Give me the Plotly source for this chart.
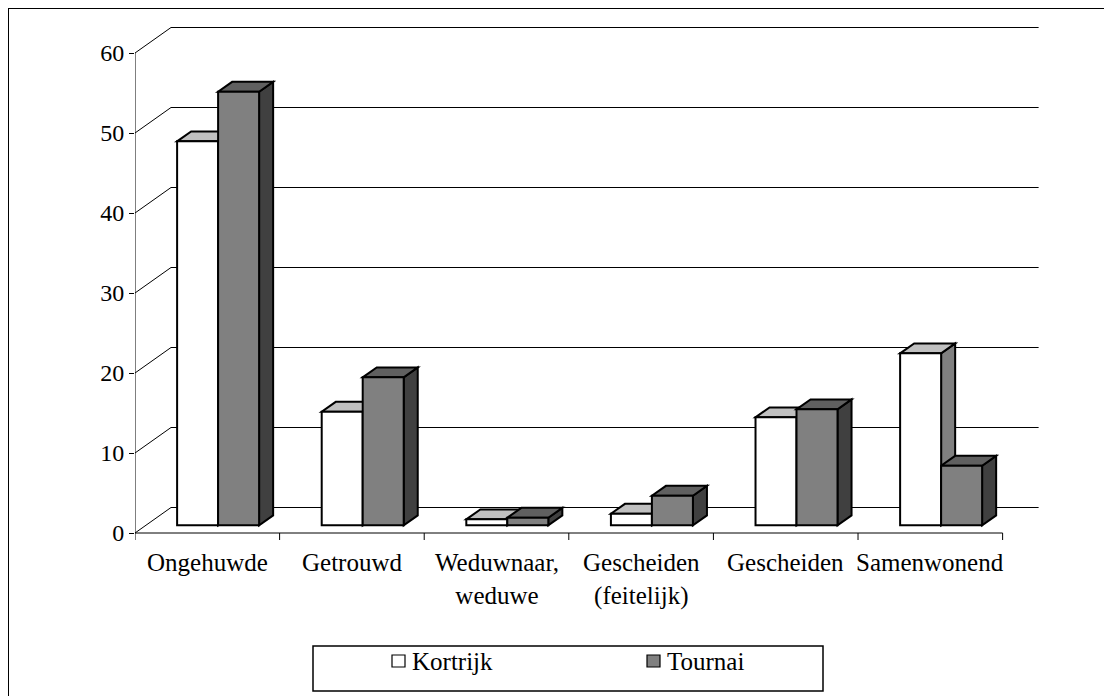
import plotly.graph_objects as go

# ---------------- data ----------------
categories = ["Ongehuwde", "Getrouwd", "Weduwnaar,<br>weduwe",
              "Gescheiden<br>(feitelijk)", "Gescheiden", "Samenwonend"]
series_names = ["Kortrijk", "Tournai"]
kortrijk = [48.0, 14.2, 0.75, 1.45, 13.5, 21.5]
tournai = [54.2, 18.5, 0.95, 3.7, 14.5, 7.45]
y_ticks = [0, 10, 20, 30, 40, 50, 60]

# ---------------- layout constants ----------------
OFF = 8                     # page body margin offset
W, H = 1112 - OFF, 696 - OFF
ML, MR, MT, MB = 135 - OFF, 66, 21 - OFF, 153
XR = [0, 6.3]
YR = [-1.25, 64]
plot_w = W - ML - MR
plot_h = H - MT - MB
px_x = plot_w / (XR[1] - XR[0])
px_y = plot_h / (YR[1] - YR[0])

DX = 36 / px_x          # depth offset (x) of back wall in data units
DY = 25.5 / px_y        # depth offset (y) of back wall in data units
F0, F1 = 0.30, 0.69     # bar depth (fraction of wall depth)
GAP = 0.2165            # left gap inside a category slot
BW = 0.2835             # bar width
FONT = "Liberation Serif"

front_cols = ["#ffffff", "#808080"]
top_cols = ["#c0c0c0", "#606060"]
side_cols = ["#808080", "#404040"]
series_vals = [kortrijk, tournai]
ncat = len(categories)


def px2paper(px, py):
    # px, py: pixel positions in the screenshot
    return (px - OFF - ML) / plot_w, (H - MB - (py - OFF)) / plot_h


shapes = []
# left wall diagonals + back wall gridlines
for v in y_ticks:
    shapes.append(dict(type="line", xref="x", yref="y", x0=0, y0=v, x1=DX, y1=v + DY,
                       line=dict(color="black", width=1), layer="below"))
    shapes.append(dict(type="line", xref="x", yref="y", x0=DX, y0=v + DY, x1=ncat + DX, y1=v + DY,
                       line=dict(color="black", width=1), layer="below"))
# front axes
shapes.append(dict(type="line", xref="x", yref="y", x0=0, y0=0, x1=0, y1=y_ticks[-1],
                   line=dict(color="black", width=1), layer="below"))
shapes.append(dict(type="line", xref="x", yref="y", x0=0, y0=0, x1=ncat, y1=0,
                   line=dict(color="black", width=1), layer="below"))
for i in range(ncat + 1):
    shapes.append(dict(type="line", xref="x", yref="y", x0=i, y0=0, x1=i, y1=-7 / px_y,
                       line=dict(color="black", width=1), layer="below"))

# 3D faces (tops and sides) of bars
ddx = (F1 - F0) * DX
ddy = (F1 - F0) * DY
base = F0 * DY
for i in range(ncat):
    for s, vals in enumerate(series_vals):
        xl = i + GAP + BW * s + F0 * DX
        xr = xl + BW
        t = base + vals[i]
        top = f"M{xl},{t} L{xr},{t} L{xr + ddx},{t + ddy} L{xl + ddx},{t + ddy} Z"
        side = f"M{xr},{base} L{xr},{t} L{xr + ddx},{t + ddy} L{xr + ddx},{base + ddy} Z"
        shapes.append(dict(type="path", xref="x", yref="y", path=side, fillcolor=side_cols[s],
                           line=dict(color="black", width=2), layer="below"))
        shapes.append(dict(type="path", xref="x", yref="y", path=top, fillcolor=top_cols[s],
                           line=dict(color="black", width=2), layer="below"))

fig = go.Figure()
for s, vals in enumerate(series_vals):
    xs = [i + GAP + BW * (s + 0.5) + F0 * DX for i in range(ncat)]
    fig.add_trace(go.Bar(
        x=xs, y=vals, base=[base] * ncat, width=[BW] * ncat, name=series_names[s],
        marker=dict(color=front_cols[s], line=dict(color="black", width=2)),
        showlegend=False, hoverinfo="skip"))

annotations = []
for i, c in enumerate(categories):
    annotations.append(dict(x=i + 0.5, y=0, xref="x", yref="y", text=c, showarrow=False,
                            xanchor="center", yanchor="top", yshift=-14, align="center",
                            font=dict(family=FONT, size=25, color="black")))

# outer frame (cropped at right/bottom)
fx0, fy0 = px2paper(8, 8)
fx1, fy1 = px2paper(1130, 720)
shapes.append(dict(type="rect", xref="paper", yref="paper", x0=fx0, y0=fy0, x1=fx1, y1=fy1,
                   line=dict(color="black", width=2), fillcolor="rgba(0,0,0,0)", layer="above"))

# manual legend
lx0, ly0 = px2paper(313, 646)
lx1, ly1 = px2paper(823, 691)
shapes.append(dict(type="rect", xref="paper", yref="paper", x0=lx0, y0=ly0, x1=lx1, y1=ly1,
                   line=dict(color="black", width=1.5), fillcolor="white", layer="above"))
leg_x = [392, 647]
for s in range(2):
    mx0, my0 = px2paper(leg_x[s], 655)
    mx1, my1 = px2paper(leg_x[s] + 13, 667)
    shapes.append(dict(type="rect", xref="paper", yref="paper", x0=mx0, y0=my0, x1=mx1, y1=my1,
                       line=dict(color="black", width=1.2), fillcolor=front_cols[s], layer="above"))
    tx, ty = px2paper(leg_x[s] + 18, 661)
    annotations.append(dict(x=tx, y=ty, xref="paper", yref="paper", text=series_names[s],
                            showarrow=False, xanchor="left", yanchor="middle",
                            font=dict(family=FONT, size=25, color="black")))

fig.update_layout(
    width=W, height=H, margin=dict(l=ML, r=MR, t=MT, b=MB, pad=0),
    font=dict(family=FONT, size=24, color="black"),
    paper_bgcolor="white", plot_bgcolor="white", barmode="overlay",
    xaxis=dict(range=XR, showgrid=False, zeroline=False, showline=False, showticklabels=False,
               ticks="", fixedrange=True),
    yaxis=dict(range=YR, tickvals=y_ticks, ticktext=[str(v) for v in y_ticks], ticks="outside",
               ticklen=5, tickcolor="black", tickwidth=1, showgrid=False, zeroline=False,
               showline=False, tickfont=dict(family=FONT, size=24, color="black"), fixedrange=True),
    shapes=shapes, annotations=annotations, showlegend=False,
)

fig.write_html("out.html")
